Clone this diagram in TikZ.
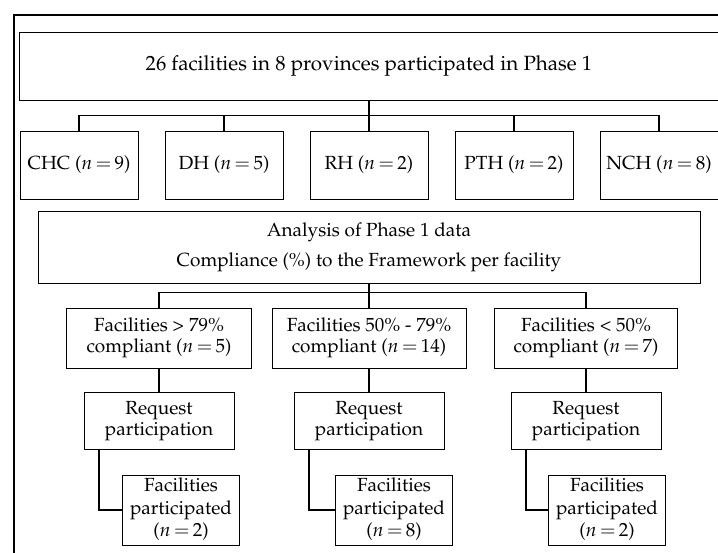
\documentclass[tikz,border=0pt]{standalone}
\usepackage[T1]{fontenc}
\usepackage{mathpazo}
\usetikzlibrary{trees}

\begin{document}
\begin{tikzpicture}[x=1pt,y=1pt,
        every node/.style={draw,line width=0.8pt,inner sep=2pt},
        edge from parent/.style={draw,line width=1.1pt}]
    \useasboundingbox (0,0) rectangle (718,-552);
    \clip (0,0) rectangle (718,-552);
    % marco exterior
    \draw[line width=1.5pt] (14,-15) rectangle (760,-600);
    {\fontsize{19}{21}\selectfont
    % fase 1 por tipo de centro
    \begin{scope}[level distance=99pt,sibling distance=145pt,
                  edge from parent fork down,
                  level 1/.style={minimum width=118pt,minimum height=68pt}]
    \node[minimum width=700pt,minimum height=68pt,font=\fontsize{20.6}{24}\selectfont] (phase) at (369,-66)
        {26 facilities in 8 provinces participated in Phase 1}
      child {node[font=\fontsize{19}{21}\selectfont] (chc) {CHC ($n\,{=}\,9$)}}
      child {node[font=\fontsize{19}{21}\selectfont] (dh) {DH ($n\,{=}\,5$)}}
      child {node[font=\fontsize{19}{21}\selectfont] (rh) {RH ($n\,{=}\,2$)}}
      child {node[font=\fontsize{19}{21}\selectfont] (pth) {PTH ($n\,{=}\,2$)}}
      child {node[font=\fontsize{19}{21}\selectfont] (nch) {NCH ($n\,{=}\,8$)}};
    \end{scope}
    % analisis y seguimiento
    \begin{scope}[edge from parent fork down,
                  level 1/.style={level distance=91pt,sibling distance=213.5pt,minimum height=60pt},
                  level 2/.style={level distance=82.5pt,minimum width=150pt,minimum height=57pt},
                  level 3/.style={level distance=89.5pt,minimum width=117pt,minimum height=70pt,
                      edge from parent path={([xshift=-60pt]\tikzparentnode.south) |- (\tikzchildnode.west)}}]
    \node[minimum width=662pt,minimum height=72pt] (analysis) at (369,-247) {%
        \begin{tabular}{@{}c@{}}
            Analysis of Phase 1 data\\[9pt]
            Compliance (\%) to the Framework per facility
        \end{tabular}}
      child[xshift=3.5pt] {node[minimum width=185pt] (high) {%
          \begin{tabular}{@{}c@{}}
              Facilities > 79\%\\
              compliant ($n\,{=}\,5$)
          \end{tabular}}
        child {node (reqhigh) {%
            \begin{tabular}{@{}c@{}}
                Request\\
                participation
            \end{tabular}}
          child {node[xshift=22pt] (parthigh) {%
              \begin{tabular}{@{}c@{}}
                  Facilities\\[1.5pt]
                  participated\\[1.5pt]
                  ($n\,{=}\,2$)
              \end{tabular}}}
        }
      }
      child {node[minimum width=194pt] (mid) {%
          \begin{tabular}{@{}c@{}}
              Facilities 50\% - 79\%\\
              compliant ($n\,{=}\,14$)
          \end{tabular}}
        child {node (reqmid) {%
            \begin{tabular}{@{}c@{}}
                Request\\
                participation
            \end{tabular}}
          child {node[xshift=25pt] (partmid) {%
              \begin{tabular}{@{}c@{}}
                  Facilities\\[1.5pt]
                  participated\\[1.5pt]
                  ($n\,{=}\,8$)
              \end{tabular}}}
        }
      }
      child[xshift=3.5pt] {node[minimum width=183pt] (low) {%
          \begin{tabular}{@{}c@{}}
              Facilities < 50\%\\
              compliant ($n\,{=}\,7$)
          \end{tabular}}
        child {node (reqlow) {%
            \begin{tabular}{@{}c@{}}
                Request\\
                participation
            \end{tabular}}
          child {node[xshift=21pt] (partlow) {%
              \begin{tabular}{@{}c@{}}
                  Facilities\\[1.5pt]
                  participated\\[1.5pt]
                  ($n\,{=}\,2$)
              \end{tabular}}}
        }
      };
    \end{scope}
    }
\end{tikzpicture}
\end{document}
